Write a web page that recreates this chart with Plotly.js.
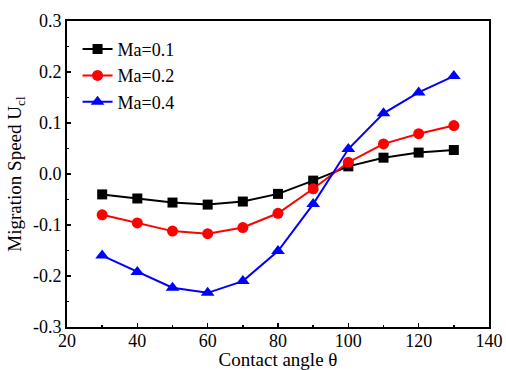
<!DOCTYPE html>
<html>
<head>
<meta charset="utf-8">
<script src="https://cdn.plot.ly/plotly-3.0.1.min.js"></script>
<style>
  html, body { margin: 0; padding: 0; background: #fff; }
  #chart { width: 506px; height: 370px; }
</style>
</head>
<body>
<div id="chart"></div>
<script>
// Contact angle (degrees)
const contactAngle = [30, 40, 50, 60, 70, 80, 90, 100, 110, 120, 130];

// Contact-line migration speed for three Marangoni numbers
const speedMa01 = [-0.040, -0.048, -0.056, -0.060, -0.054, -0.039, -0.013, 0.015, 0.032, 0.042, 0.047];
const speedMa02 = [-0.080, -0.096, -0.112, -0.117, -0.105, -0.077, -0.029, 0.023, 0.059, 0.079, 0.095];
const speedMa04 = [-0.160, -0.192, -0.223, -0.233, -0.210, -0.151, -0.059, 0.049, 0.119, 0.160, 0.192];

// Axis tick labels
const xTickVals = [20, 40, 60, 80, 100, 120, 140];
const xTickText = ['20', '40', '60', '80', '100', '120', '140'];
const yTickVals = [-0.3, -0.2, -0.1, 0.0, 0.1, 0.2, 0.3];
const yTickText = ['-0.3', '-0.2', '-0.1', '0.0', '0.1', '0.2', '0.3'];

const serif = 'Liberation Serif, Times New Roman, serif';

const traces = [
  {
    x: contactAngle, y: speedMa01, name: 'Ma=0.1', type: 'scatter', mode: 'lines+markers',
    line: { color: '#000000', width: 2 },
    marker: { symbol: 'square', size: 10, color: '#000000' }
  },
  {
    x: contactAngle, y: speedMa02, name: 'Ma=0.2', type: 'scatter', mode: 'lines+markers',
    line: { color: '#ff0000', width: 2 },
    marker: { symbol: 'circle', size: 11, color: '#ff0000' }
  },
  {
    x: contactAngle, y: speedMa04, name: 'Ma=0.4', type: 'scatter', mode: 'lines+markers',
    line: { color: '#0000ff', width: 2 },
    marker: { symbol: 'triangle-up', size: 12, color: '#0000ff' }
  }
];

const layout = {
  width: 506,
  height: 370,
  margin: { l: 67, r: 17, t: 21, b: 43 },
  paper_bgcolor: '#ffffff',
  plot_bgcolor: '#ffffff',
  font: { family: serif, size: 18, color: '#000000' },
  showlegend: true,
  legend: {
    x: 0.025, y: 0.968, xanchor: 'left', yanchor: 'top',
    bgcolor: 'rgba(0,0,0,0)',
    font: { family: serif, size: 18, color: '#000000' },
    tracegroupgap: 0
  },
  xaxis: {
    range: [20, 140],
    tickmode: 'array', tickvals: xTickVals, ticktext: xTickText,
    ticks: 'inside', ticklen: 4, tickwidth: 1.5, tickcolor: '#000',
    minor: { dtick: 10, ticks: 'inside', ticklen: 2, tickwidth: 1.5, tickcolor: '#000' },
    showline: true, linewidth: 2, linecolor: '#000', mirror: true,
    showgrid: false, zeroline: false,
    ticklabelstandoff: -4,
    tickfont: { family: serif, size: 18 },
    title: { text: 'Contact angle θ', font: { family: serif, size: 19 }, standoff: 2 }
  },
  yaxis: {
    range: [-0.3, 0.3],
    tickmode: 'array', tickvals: yTickVals, ticktext: yTickText,
    ticks: 'inside', ticklen: 4, tickwidth: 1.5, tickcolor: '#000',
    minor: { dtick: 0.05, ticks: 'inside', ticklen: 2, tickwidth: 1.5, tickcolor: '#000' },
    showline: true, linewidth: 2, linecolor: '#000', mirror: true,
    showgrid: false, zeroline: false,
    tickfont: { family: serif, size: 18 },
    title: { text: 'Migration Speed U<sub>cl</sub>', font: { family: serif, size: 19 }, standoff: 6 }
  }
};

Plotly.newPlot('chart', traces, layout, { displayModeBar: false, staticPlot: true });
</script>
</body>
</html>
